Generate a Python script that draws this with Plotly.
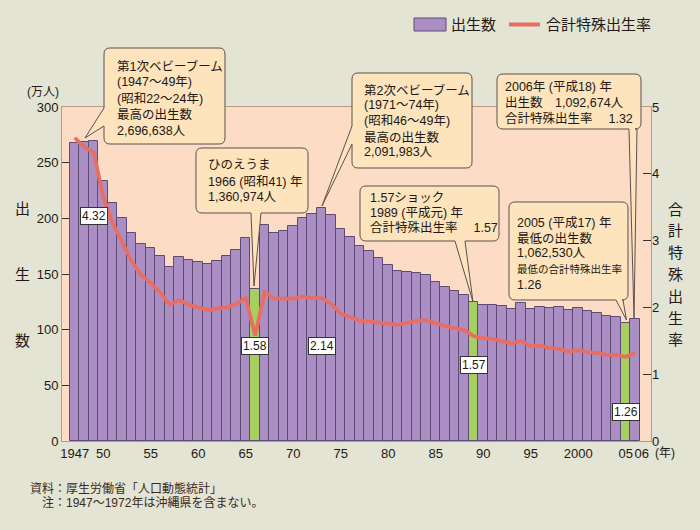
import plotly.graph_objects as go

# ---------------- data ----------------
years = list(range(1947, 2007))
births = [267.9, 268.2, 269.7, 233.8, 213.8, 200.5, 186.8, 177.0, 173.1, 166.5,
          156.7, 165.3, 162.6, 160.6, 158.9, 161.9, 166.0, 171.7, 182.4, 136.1,
          193.6, 187.2, 188.9, 193.4, 200.1, 203.9, 209.2, 203.0, 190.1, 183.3,
          175.5, 170.9, 164.3, 157.7, 152.9, 151.5, 150.9, 149.0, 143.2, 138.3,
          134.7, 131.4, 124.7, 122.2, 122.3, 120.9, 118.8, 123.8, 118.7, 120.7,
          119.2, 120.3, 117.8, 119.1, 117.1, 115.4, 112.4, 111.1, 106.3, 109.3]
tfr = [4.54, 4.40, 4.32, 3.65, 3.26, 2.98, 2.69, 2.48, 2.37, 2.22,
       2.04, 2.11, 2.04, 2.00, 1.96, 1.98, 2.00, 2.05, 2.14, 1.58,
       2.23, 2.13, 2.13, 2.13, 2.16, 2.14, 2.14, 2.05, 1.91, 1.85,
       1.80, 1.79, 1.77, 1.75, 1.74, 1.77, 1.80, 1.81, 1.76, 1.72,
       1.69, 1.66, 1.57, 1.54, 1.53, 1.50, 1.46, 1.50, 1.42, 1.43,
       1.39, 1.38, 1.34, 1.36, 1.33, 1.32, 1.29, 1.29, 1.26, 1.32]
highlight_years = [1966, 1989, 2005]
tick_years = [1947, 1950, 1955, 1960, 1965, 1970, 1975, 1980, 1985, 1990, 1995, 2000, 2005, 2006]
tick_text = ["1947", "50", "55", "60", "65", "70", "75", "80", "85", "90", "95", "2000", "05",
             "\u200306"]
left_ticks = [0, 50, 100, 150, 200, 250, 300]
right_ticks = [0, 1, 2, 3, 4, 5]
tfr_label_years = [1949, 1966, 1973, 1989, 2005]
tfr_label_pos = [201.8, 85.3, 85.3, 68.0, 26.0]

# ---------------- style ----------------
W, H = 700, 530
L, R, T, B = 62, 651, 107, 441
FONT = "Liberation Sans, Noto Sans CJK JP, sans-serif"
TXT = "#231815"
PAPER = "#e4e4d4"
PLOTBG = "#fcdcc4"
PURPLE = "#ab8fc4"
PURPLE_EDGE = "#5e4b74"
GREEN = "#a6ce60"
LINE = "#e86e64"
CALLOUT = "#fde4bc"
BORDER = "#b89a86"


def px(x):
    return (x - L) / (R - L)


def py(y):
    return (B - y) / (B - T)


def P(x, y):
    return f"{px(x):.5f},{py(y):.5f}"


def bubble(x0, y0, x1, y1, edge, b1, b2, tip, r=6):
    s = f"M {P(x0 + r, y0)} L {P(x1 - r, y0)} Q {P(x1, y0)} {P(x1, y0 + r)} "
    s += f"L {P(x1, y1 - r)} Q {P(x1, y1)} {P(x1 - r, y1)} "
    if edge == "bottom":
        s += f"L {P(max(b1, b2), y1)} L {P(*tip)} L {P(min(b1, b2), y1)} "
    s += f"L {P(x0 + r, y1)} Q {P(x0, y1)} {P(x0, y1 - r)} "
    if edge == "left":
        s += f"L {P(x0, max(b1, b2))} L {P(*tip)} L {P(x0, min(b1, b2))} "
    s += f"L {P(x0, y0 + r)} Q {P(x0, y0)} {P(x0 + r, y0)} Z"
    return s


def text_at(x, y, txt, size, xanchor="center", color=TXT):
    return dict(x=px(x), y=py(y), xref="paper", yref="paper", text=txt, showarrow=False,
                xanchor=xanchor, yanchor="middle", font=dict(family=FONT, size=size, color=color))


bar_colors = [GREEN if y in highlight_years else PURPLE for y in years]

fig = go.Figure()
fig.add_trace(go.Bar(x=years, y=births, marker=dict(color=bar_colors,
                     line=dict(color=PURPLE_EDGE, width=1)),
                     name="出生数", showlegend=False))
fig.add_trace(go.Scatter(x=years, y=tfr, yaxis="y2", mode="lines",
                         line=dict(color=LINE, width=3.8),
                         name="合計特殊出生率", showlegend=False))

shapes = []
annotations = []

FS = 12.5
callouts = [
    dict(box=(104, 48, 225, 144), edge="left", b=(108, 126), tip=(85, 138), tx=115,
         lines=[("第1次ベビーブーム", 66.5, FS), ("(1947〜49年)", 82.5, FS),
                ("(昭和22〜24年)", 99, FS), ("最高の出生数", 115, FS), ("2,696,638人", 130.5, FS)]),
    dict(box=(196, 148, 308, 213), edge="bottom", b=(251, 261), tip=(254, 286), tx=206,
         lines=[("ひのえうま", 165, FS), ("1966 (昭和41) 年", 181.5, FS), ("1,360,974人", 197, FS)]),
    dict(box=(352, 73, 472, 168), edge="left", b=(126, 144), tip=(322, 206), tx=362,
         lines=[("第2次ベビーブーム", 90, FS), ("(1971〜74年)", 105, FS),
                ("(昭和46〜49年)", 121, FS), ("最高の出生数", 137, FS), ("2,091,983人", 152, FS)]),
    dict(box=(360, 186, 499, 241), edge="bottom", b=(455, 465), tip=(473, 302), tx=368,
         lines=[("1.57ショック", 198, FS), ("1989 (平成元) 年", 213, FS), ("合計特殊出生率　 1.57", 227.5, FS)]),
    dict(box=(509, 202, 628, 300), edge="bottom", b=(616, 623), tip=(626.5, 320), tx=515,
         lines=[("2005 (平成17) 年", 222.5, FS), ("最低の出生数", 238.5, FS), ("1,062,530人", 253, FS),
                ("最低の合計特殊出生率", 269, 10.5), ("1.26", 284.5, FS)]),
    dict(box=(497, 74, 641, 129), edge="bottom", b=(629, 637), tip=(634, 318), tx=503,
         lines=[("2006年 (平成18) 年", 86.5, FS), ("出生数　1,092,674人", 103, FS),
                ("合計特殊出生率　 1.32", 119, FS)]),
]

for c in callouts:
    x0, y0, x1, y1 = c["box"]
    shapes.append(dict(type="path", xref="paper", yref="paper",
                       path=bubble(x0, y0, x1, y1, c["edge"], c["b"][0], c["b"][1], c["tip"]),
                       fillcolor=CALLOUT, line=dict(color="#5a5050", width=1), layer="above"))
    for txt, yy, sz in c["lines"]:
        annotations.append(text_at(c["tx"], yy, txt, sz, xanchor="left"))

# TFR value labels on bars
for yr, pos in zip(tfr_label_years, tfr_label_pos):
    val = tfr[years.index(yr)]
    annotations.append(dict(x=yr, y=pos, xref="x", yref="y", text=f"{val:.2f}",
                            showarrow=False, bgcolor="white", bordercolor="#333333",
                            borderwidth=1, borderpad=1, xanchor="center", yanchor="middle",
                            font=dict(family=FONT, size=12, color=TXT)))

# Legend
shapes.append(dict(type="rect", xref="paper", yref="paper", x0=px(414), x1=px(446),
                   y0=py(31), y1=py(18), fillcolor=PURPLE, line=dict(color=PURPLE_EDGE, width=1)))
shapes.append(dict(type="line", xref="paper", yref="paper", x0=px(509), x1=px(540),
                   y0=py(24.5), y1=py(24.5), line=dict(color=LINE, width=4)))
annotations.append(text_at(449, 24.5, "出生数", 15, xanchor="left"))
annotations.append(text_at(544, 24.5, "合計特殊出生率", 15, xanchor="left"))

# Axis titles
annotations.append(text_at(43, 92, "(万人)", 12))
for ch, yy in zip("出生数", [208, 274, 340]):
    annotations.append(text_at(22, yy, ch, 15))
for i, ch in enumerate("合計特殊出生率"):
    annotations.append(text_at(675, 209 + i * 21.8, ch, 15))
annotations.append(text_at(665, 453, "(年)", 12))

# Source notes
annotations.append(text_at(28, 488, "資料：厚生労働省「人口動態統計」", 12, xanchor="left", color="#3a2a20"))
annotations.append(text_at(40, 503, "注：1947〜1972年は沖縄県を含まない。", 12, xanchor="left", color="#3a2a20"))

fig.update_layout(
    width=W, height=H,
    margin=dict(l=L, r=W - R, t=T, b=H - B, pad=0, autoexpand=False),
    paper_bgcolor=PAPER, plot_bgcolor=PLOTBG,
    bargap=0, showlegend=False,
    font=dict(family=FONT, size=13, color=TXT),
    xaxis=dict(range=[1945.66, 2007.66], tickmode="array", tickvals=tick_years, ticktext=tick_text,
               tickangle=0, automargin=False,
               showgrid=False, zeroline=False, ticks="", showline=True, linecolor=BORDER,
               linewidth=1, mirror=True, tickfont=dict(family=FONT, size=13, color=TXT)),
    yaxis=dict(range=[0, 300], tickmode="array", tickvals=left_ticks, showgrid=False,
               automargin=False,
               zeroline=False, ticks="inside", ticklen=7, tickcolor="#333333",
               showline=True, linecolor=BORDER, linewidth=1, mirror=True,
               tickfont=dict(family=FONT, size=13, color=TXT)),
    yaxis2=dict(range=[0, 5], overlaying="y", side="right", tickmode="array", tickvals=right_ticks,
                automargin=False,
                showgrid=False, zeroline=False, ticks="inside", ticklen=8, tickcolor="#333333",
                showline=False, tickfont=dict(family=FONT, size=13, color=TXT)),
    shapes=shapes, annotations=annotations,
)

fig.write_html("out.html", config={"displayModeBar": False},
               post_script="document.body.style.margin='0';document.body.style.padding='0';")
